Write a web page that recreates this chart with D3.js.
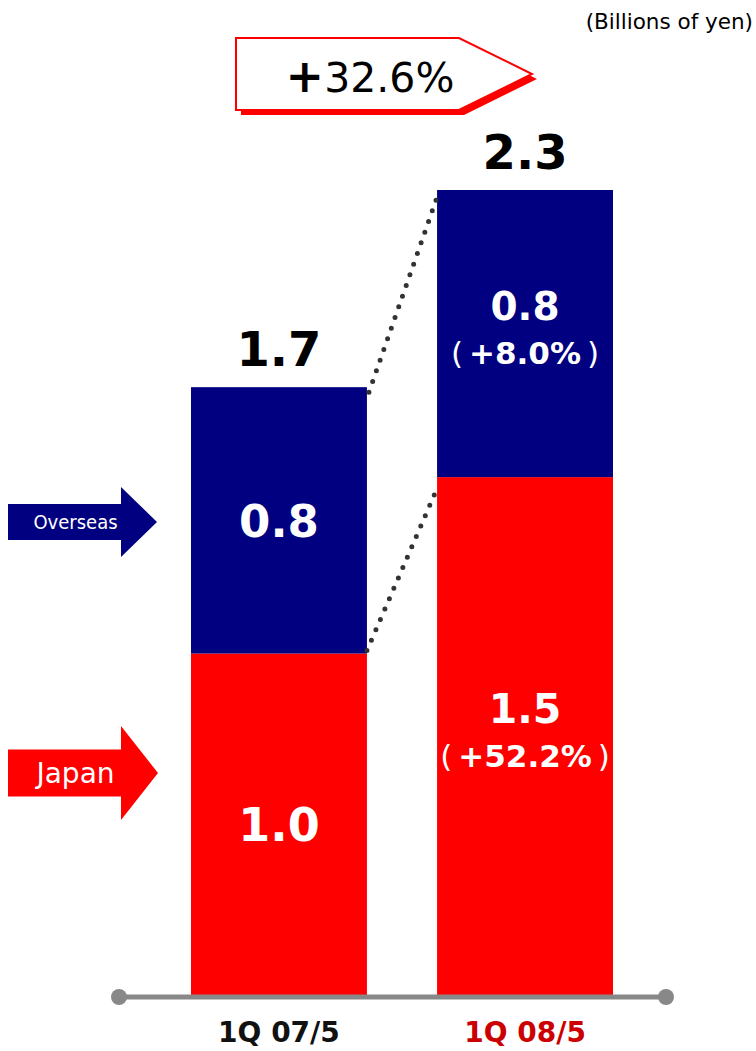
<!DOCTYPE html>
<html>
<head>
<meta charset="utf-8">
<script src="https://cdn.jsdelivr.net/npm/d3@7"></script>
<style>
  body { margin: 0; background: #fff; }
  svg { display: block; }
</style>
</head>
<body>
<div id="chart"></div>
<script>
// data
var categories = ["1Q 07/5", "1Q 08/5"];
var japan = [0.99, 1.50];
var overseas = [0.77, 0.83];
var japanLabels = ["1.0", "1.5"];
var overseasLabels = ["0.8", "0.8"];
var totalLabels = ["1.7", "2.3"];
var japanGrowth = [null, "+52.2%"];
var overseasGrowth = [null, "+8.0%"];
var totalGrowth = "32.6%";

var W = 756, H = 1051;
var NAVY = "#000080", RED = "#ff0000";

var svg = d3.select("#chart").append("svg")
    .attr("width", W)
    .attr("height", H);

var x = d3.scaleBand().domain(categories).range([191, 613]).paddingInner(0.285);
var y = d3.scaleLinear().domain([0, 2.33]).range([996, 190]);
var bw = x.bandwidth();

var rows = categories.map(function(c, i) {
    return { cat: c, jp: japan[i], os: overseas[i], tot: japan[i] + overseas[i], i: i };
});

// unit note
svg.append("text")
    .attr("x", 753).attr("y", 29)
    .attr("text-anchor", "end")
    .attr("font-family", "DejaVu Sans")
    .attr("font-size", 21.5)
    .text("(Billions of yen)");

// bars
var g = svg.append("g");
g.selectAll("rect.jp").data(rows).enter().append("rect")
    .attr("x", function(d) { return x(d.cat); })
    .attr("y", function(d) { return y(d.jp); })
    .attr("width", bw)
    .attr("height", function(d) { return y(0) - y(d.jp); })
    .attr("fill", RED);

g.selectAll("rect.os").data(rows).enter().append("rect")
    .attr("x", function(d) { return x(d.cat); })
    .attr("y", function(d) { return y(d.tot); })
    .attr("width", bw)
    .attr("height", function(d) { return y(d.jp) - y(d.tot); })
    .attr("fill", NAVY);

// dotted connectors
var a = rows[0], b = rows[1];
var conn = [
    [[x(a.cat) + bw + 2, y(a.tot) + 5], [x(b.cat) - 1, y(b.tot) + 10]],
    [[x(a.cat) + bw, y(a.jp) - 3], [x(b.cat) - 2, y(b.jp) + 16]]
];
svg.selectAll("line.conn").data(conn).enter().append("line")
    .attr("x1", function(d) { return d[0][0]; })
    .attr("y1", function(d) { return d[0][1]; })
    .attr("x2", function(d) { return d[1][0]; })
    .attr("y2", function(d) { return d[1][1]; })
    .attr("stroke", "#333")
    .attr("stroke-width", 5)
    .attr("stroke-linecap", "round")
    .attr("stroke-dasharray", "0 11.3");

// segment labels
function segLabel(d, lo, hi, label, growth, fsSingle, fsTwo) {
    var cx = x(d.cat) + bw / 2;
    var mid = (y(lo) + y(hi)) / 2;
    if (!growth) {
        svg.append("text")
            .attr("x", cx).attr("y", mid + 0.36 * fsSingle)
            .attr("text-anchor", "middle")
            .attr("font-family", "DejaVu Sans")
            .attr("font-weight", "bold")
            .attr("font-size", fsSingle)
            .attr("fill", "#fff")
            .text(label);
    } else {
        svg.append("text")
            .attr("x", cx).attr("y", mid - 14)
            .attr("text-anchor", "middle")
            .attr("font-family", "DejaVu Sans")
            .attr("font-weight", "bold")
            .attr("font-size", fsTwo)
            .attr("fill", "#fff")
            .text(label);
        var t = svg.append("text")
            .attr("x", cx).attr("y", mid + 30)
            .attr("text-anchor", "middle")
            .attr("font-family", "DejaVu Sans")
            .attr("font-weight", "bold")
            .attr("font-size", 31)
            .attr("fill", "#fff");
        t.append("tspan").attr("font-weight", "normal").text("(");
        t.append("tspan").attr("dx", 6).text(growth);
        t.append("tspan").attr("dx", 6).attr("font-weight", "normal").text(")");
    }
}
rows.forEach(function(d) {
    segLabel(d, 0, d.jp, japanLabels[d.i], japanGrowth[d.i], 46, 41);
    segLabel(d, d.jp, d.tot, overseasLabels[d.i], overseasGrowth[d.i], 45, 39);
});

// totals
svg.selectAll("text.tot").data(rows).enter().append("text")
    .attr("x", function(d) { return x(d.cat) + bw / 2; })
    .attr("y", function(d) { return y(d.tot) - 21; })
    .attr("text-anchor", "middle")
    .attr("font-family", "DejaVu Sans")
    .attr("font-weight", "bold")
    .attr("font-size", 48)
    .attr("fill", "#000")
    .text(function(d) { return totalLabels[d.i]; });

// baseline
svg.append("line")
    .attr("x1", 119).attr("x2", 666)
    .attr("y1", y(0) + 1).attr("y2", y(0) + 1)
    .attr("stroke", "#888").attr("stroke-width", 5);
svg.selectAll("circle.end").data([119, 666]).enter().append("circle")
    .attr("cx", function(d) { return d; })
    .attr("cy", y(0) + 1)
    .attr("r", 8)
    .attr("fill", "#888");

// category labels
svg.selectAll("text.cat").data(rows).enter().append("text")
    .attr("x", function(d) { return x(d.cat) + bw / 2; })
    .attr("y", 1042)
    .attr("text-anchor", "middle")
    .attr("font-family", "DejaVu Sans")
    .attr("font-weight", "bold")
    .attr("font-size", 28)
    .attr("fill", function(d, i) { return i === 1 ? "#cc0000" : "#111"; })
    .text(function(d) { return d.cat; });

// growth callout
var callout = [[236, 38], [459, 38], [532, 74], [459, 110], [236, 110]];
var line = d3.line();
svg.append("path")
    .attr("d", line(callout.map(function(p) { return [p[0] + 5, p[1] + 5]; })) + "Z")
    .attr("fill", RED);
svg.append("path")
    .attr("d", line(callout) + "Z")
    .attr("fill", "#fff")
    .attr("stroke", RED)
    .attr("stroke-width", 2);
var ct = svg.append("text")
    .attr("x", 370).attr("y", 92)
    .attr("text-anchor", "middle")
    .attr("font-family", "DejaVu Sans");
ct.append("tspan").attr("font-weight", "bold").attr("font-size", 46).text("+");
ct.append("tspan").attr("font-size", 41).text(totalGrowth);

// legend arrows
function arrow(x0, x1, x2, cy, bodyH, headH, color, label, fs, font) {
    var pts = [[x0, cy - bodyH / 2], [x1, cy - bodyH / 2], [x1, cy - headH / 2], [x2, cy],
               [x1, cy + headH / 2], [x1, cy + bodyH / 2], [x0, cy + bodyH / 2]];
    svg.append("path").attr("d", line(pts) + "Z").attr("fill", color);
    svg.append("text")
        .attr("x", (x0 + x1) / 2 + 11).attr("y", cy + fs * 0.36)
        .attr("text-anchor", "middle")
        .attr("font-family", font)
        .attr("font-size", fs)
        .attr("fill", "#fff")
        .text(label);
}
arrow(8, 121, 157, 522, 36, 70, NAVY, "Overseas", 20, "DejaVu Sans Condensed, DejaVu Sans");
arrow(8, 121, 158, 773, 47, 94, RED, "Japan", 28, "DejaVu Sans");
</script>
</body>
</html>
